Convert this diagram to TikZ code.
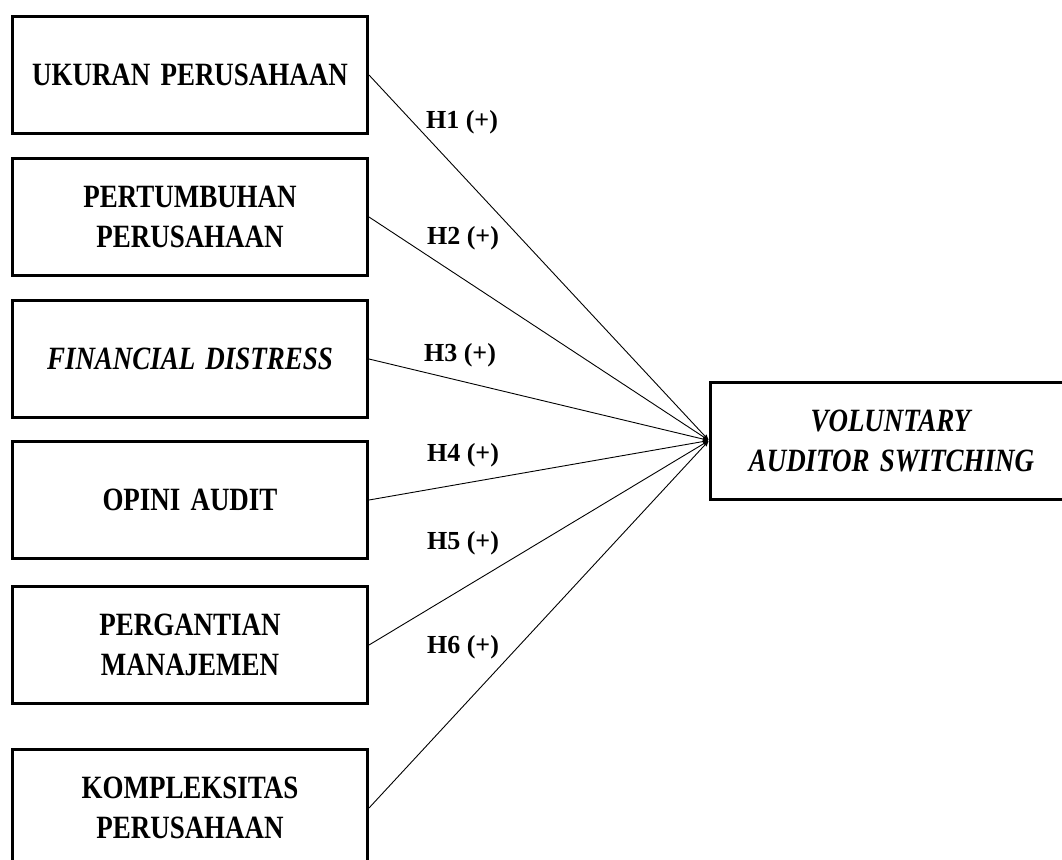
\documentclass[tikz,border=0pt]{standalone}
\usepackage{fontspec}
\setmainfont{Liberation Serif}
\newfontfamily\tallfont[FakeStretch=0.83,WordSpace=1.5]{Liberation Serif}
\usetikzlibrary{arrows,positioning}

\tikzset{
  varbox/.style={draw,line width=3pt,rectangle,minimum width=355pt,minimum height=117pt,
    align=center,font=\tallfont\bfseries\fontsize{32.5}{40}\selectfont,inner sep=0pt},
  hlabel/.style={font=\bfseries\fontsize{26}{30}\selectfont,inner sep=0pt}
}

\begin{document}
\begin{tikzpicture}[x=1pt,y=1pt,>=stealth',shorten >=1pt,node distance=22pt]

                \useasboundingbox (0,0) rectangle (1062,-859);

                \node[varbox] (ukuran) at (190,-75) {UKURAN PERUSAHAAN};

                \node[varbox] (pertumbuhan) [below=of ukuran] {PERTUMBUHAN\\PERUSAHAAN};

                \node[varbox] (distress) [below=of pertumbuhan] {\textit{FINANCIAL DISTRESS}};

                \node[varbox] (opini) [below=21pt of distress] {OPINI AUDIT};

                \node[varbox] (manajemen) [below=25pt of opini] {PERGANTIAN\\MANAJEMEN};

                \node[varbox] (kompleks) [below=43pt of manajemen] {KOMPLEKSITAS\\PERUSAHAAN};

                \node[varbox,minimum width=362pt,anchor=west] (switching) at (709,-440.5) {\textit{VOLUNTARY}\\\textit{AUDITOR SWITCHING}};

                

                \path[->,line width=0.9pt] (ukuran.east) edge (switching.west);

                \path[->,line width=0.9pt] (pertumbuhan.east) edge (switching.west);

                \path[->,line width=0.9pt] (distress.east) edge (switching.west);

                \path[->,line width=0.9pt] (opini.east) edge (switching.west);

                \path[->,line width=0.9pt] (manajemen.east) edge (switching.west);

                \path[->,line width=0.9pt] (kompleks.east) edge (switching.west);

                

                \node[hlabel] (h1) at (462,-122) {H1 (+)};

                \node[hlabel] (h2) at (463,-238) {H2 (+)};

                \node[hlabel] (h3) at (460,-355) {H3 (+)};

                \node[hlabel] (h4) at (463,-455) {H4 (+)};

                \node[hlabel] (h5) at (463,-543) {H5 (+)};

                \node[hlabel] (h6) at (463,-647) {H6 (+)};

            \end{tikzpicture}
\end{document}
